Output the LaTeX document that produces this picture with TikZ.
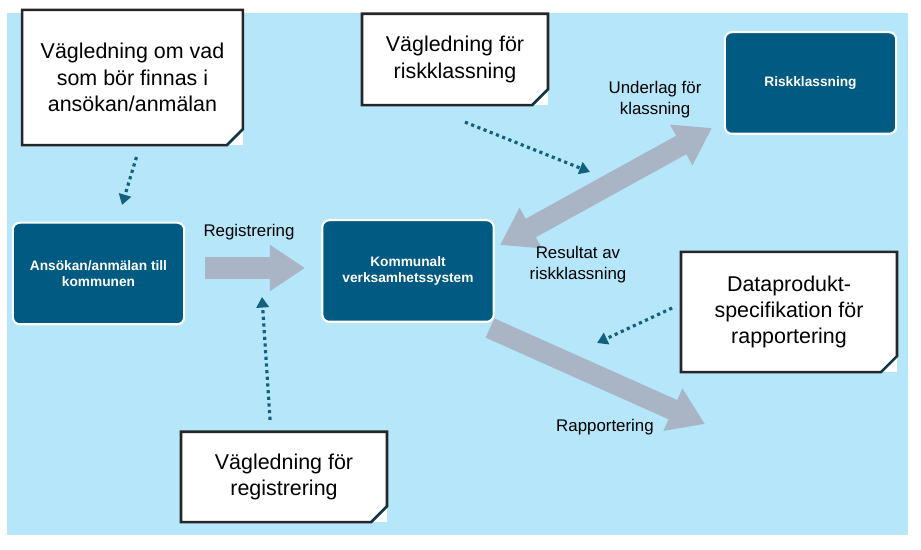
\documentclass[tikz,border=0pt]{standalone}
\usepackage{fontspec}
\setmainfont{Liberation Sans}
\usetikzlibrary{arrows.meta}
\definecolor{bgblue}{HTML}{B5E6FA}
\definecolor{boxblue}{HTML}{005A82}
\definecolor{flowgrey}{HTML}{A9B4C4}
\definecolor{hintblue}{HTML}{12607E}
\tikzset{
    note/.style={fill=white, align=center, inner sep=0pt, font=\fontsize{12.2}{15}\selectfont},
    sys/.style={fill=boxblue, draw=white, line width=1.2pt, rounded corners=4pt, text=white,
        align=center, font=\fontsize{7.8}{9.5}\selectfont\bfseries},
    lbl/.style={align=center, font=\fontsize{9.6}{12}\selectfont},
    flow/.style={draw=flowgrey, line width=12pt, -{Triangle[length=20pt,width=25pt]}},
    hint/.style={draw=hintblue, line width=1.8pt, dotted, -{Triangle[length=6pt,width=7pt]}}
}
\begin{document}
\begin{tikzpicture}[x=0.02cm, y=-0.02cm]
		\useasboundingbox (0,0) rectangle (921,550);
		% background
		\fill [bgblue] (7,13) rectangle (908,535);

		% systems
		\node[sys, minimum width=172*0.567pt, minimum height=102*0.567pt] (ansokan) at (98.5,273.5) {Ansökan/anmälan till\\kommunen};
		\node[sys, minimum width=172*0.567pt, minimum height=102*0.567pt] (verksamhet) at (408,271) {Kommunalt\\verksamhetssystem};
		\node[sys, minimum width=172*0.567pt, minimum height=102*0.567pt] (riskklass) at (810.5,83) {Riskklassning};

		% guidance notes
		\node[note, minimum width=221*0.567pt, minimum height=135*0.567pt] (vagAnsokan) at (132.5,77.5) {Vägledning om vad\\som bör finnas i\\ansökan/anmälan};
		\node[note, minimum width=186*0.567pt, minimum height=91*0.567pt] (vagRisk) at (455,59.5) {Vägledning för\\riskklassning};
		\node[note, minimum width=216*0.567pt, minimum height=120*0.567pt] (vagData) at (789,312) {Dataprodukt-\\specifikation för\\rapportering};
		\node[note, minimum width=206*0.567pt, minimum height=90*0.567pt] (vagReg) at (284,477) {Vägledning för\\registrering};
		\foreach \n in {vagAnsokan, vagRisk, vagData, vagReg} {
			\draw[line width=1.5pt, black!85] (\n.north west) -- (\n.north east) -- ([yshift=16*0.567pt]\n.south east)
				-- ([xshift=-16*0.567pt]\n.south east) -- (\n.south west) -- cycle;
			\filldraw[fill=flowgrey!80!black!60, draw=boxblue!70!black, line width=0.8pt]
				([yshift=16*0.567pt]\n.south east) -- ([xshift=-16*0.567pt]\n.south east) -- ([xshift=-13*0.567pt, yshift=3*0.567pt]\n.south east) -- cycle;
		}

		% flows
		\coordinate (regStart) at (205,268);
		\coordinate (regEnd) at (305,268);
		\draw[flow] (regStart) -- (regEnd);
		\coordinate (riskLow) at (500,245);
		\coordinate (riskHigh) at (712,128);
		\draw[flow, {Triangle[length=20pt,width=25pt]}-{Triangle[length=20pt,width=25pt]}] (riskLow) -- (riskHigh);
		\coordinate (rapStart) at (490,328);
		\coordinate (rapEnd) at (705,424);
		\draw[flow] (rapStart) -- (rapEnd);

		% flow labels
		\node[lbl] (lblReg) at (249,232) {Registrering};
		\node[lbl] (lblUnderlag) at (655,100) {Underlag för\\klassning};
		\node[lbl] (lblResultat) at (578,265) {Resultat av\\riskklassning};
		\node[lbl] (lblRap) at (605,427) {Rapportering};

		% guidance hints
		\coordinate (hintAnsokan) at (122,205);
		\coordinate (hintRisk) at (590,172);
		\coordinate (hintReg) at (262,297);
		\coordinate (hintData) at (597,343);
		\draw[hint] ([xshift=4*0.567pt, yshift=-12*0.567pt]vagAnsokan.south) -- (hintAnsokan);
		\draw[hint] ([xshift=10*0.567pt, yshift=-17*0.567pt]vagRisk.south) -- (hintRisk);
		\draw[hint] ([xshift=-14*0.567pt, yshift=12*0.567pt]vagReg.north) -- (hintReg);
		\draw[hint] ([xshift=-9*0.567pt, yshift=4*0.567pt]vagData.west) -- (hintData);
\end{tikzpicture}
\end{document}
